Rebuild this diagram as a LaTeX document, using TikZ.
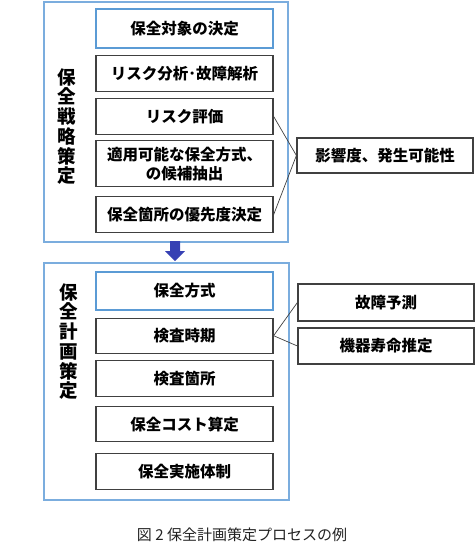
\documentclass[tikz,border=0pt]{standalone}
\usepackage{fontspec}
\setmainfont{Noto Sans CJK JP}
\usetikzlibrary{positioning}

\definecolor{frameblue}{RGB}{123,173,222}
\definecolor{boxblue}{RGB}{91,155,213}
\definecolor{boxgray}{RGB}{64,64,64}
\definecolor{arrowblue}{RGB}{55,65,180}
\definecolor{captiongray}{RGB}{34,34,34}

\begin{document}
\begin{tikzpicture}[x=1pt,y=-1pt,
					node distance=6pt,
					box/.style={draw=boxgray,line width=1.2pt,minimum width=177pt,
					            minimum height=36pt,inner sep=0pt,align=center,
					            font=\fontsize{15.5}{19}\selectfont\bfseries},
					first box/.style={box,draw=boxblue},
					side box/.style={box,minimum width=176pt},
					frame/.style={draw=frameblue,line width=1.5pt,minimum width=244pt,
					              inner sep=0pt,anchor=north west},
					side label/.style={align=center,
					                   font=\fontsize{18.5}{19.7}\selectfont\bfseries},
					link/.style={draw=boxgray,line width=0.7pt}]

  \useasboundingbox (0,0) rectangle (476,552);

  % strategy part
  \node[frame,minimum height=240pt] (strat) at (43,1) {};
  \node[side label] (stratlabel) at (67,126.5) {保\\全\\戦\\略\\策\\定};
  \node[first box,minimum height=39pt] (b1) at (184.5,28.5) {保全対象の決定};
  \node[box] (b2) [below=6pt of b1] {リスク分析･故障解析};
  \node[box] (b3) [below=6pt of b2] {リスク評価};
  \node[box,minimum height=46pt] (b4) [below=5pt of b3] {適用可能な保全方式、\\の候補抽出};
  \node[box] (b5) [below=9pt of b4] {保全箇所の優先度決定};
  \node[side box,minimum height=35pt] (r1) at (385,155.5) {影響度、発生可能性};

  \fill[arrowblue] (170,241) -- (180,241) -- (180,251) -- (185,251)
                   -- (175,261) -- (165,251) -- (170,251) -- cycle;

  % planning part
  \node[frame,minimum width=245pt,minimum height=237pt] (plan) at (43,262) {};
  \node[side label] (planlabel) at (69,341.5) {保\\全\\計\\画\\策\\定};
  \node[first box,minimum height=38pt] (c1) at (184.5,291) {保全方式};
  \node[box,minimum height=35pt] (c2) [below=7pt of c1] {検査時期};
  \node[box] (c3) [below=6pt of c2] {検査箇所};
  \node[box,minimum height=35pt] (c4) [below=9pt of c3] {保全コスト算定};
  \node[box] (c5) [below=11pt of c4] {保全実施体制};
  \node[side box,minimum height=37pt] (r2) at (386,302.5) {故障予測};
  \node[side box] (r3) at (386,346) {機器寿命推定};

  \path[link]
    (b3.east) edge (r1.west)
    (b5.east) edge (r1.west)
    (c2.east) edge (r2.west)
              edge (r3.west)
;

  \node[text=captiongray,font=\fontsize{15}{17}\selectfont] (caption) at (242,535)
    {図 2 保全計画策定プロセスの例};
\end{tikzpicture}
\end{document}
